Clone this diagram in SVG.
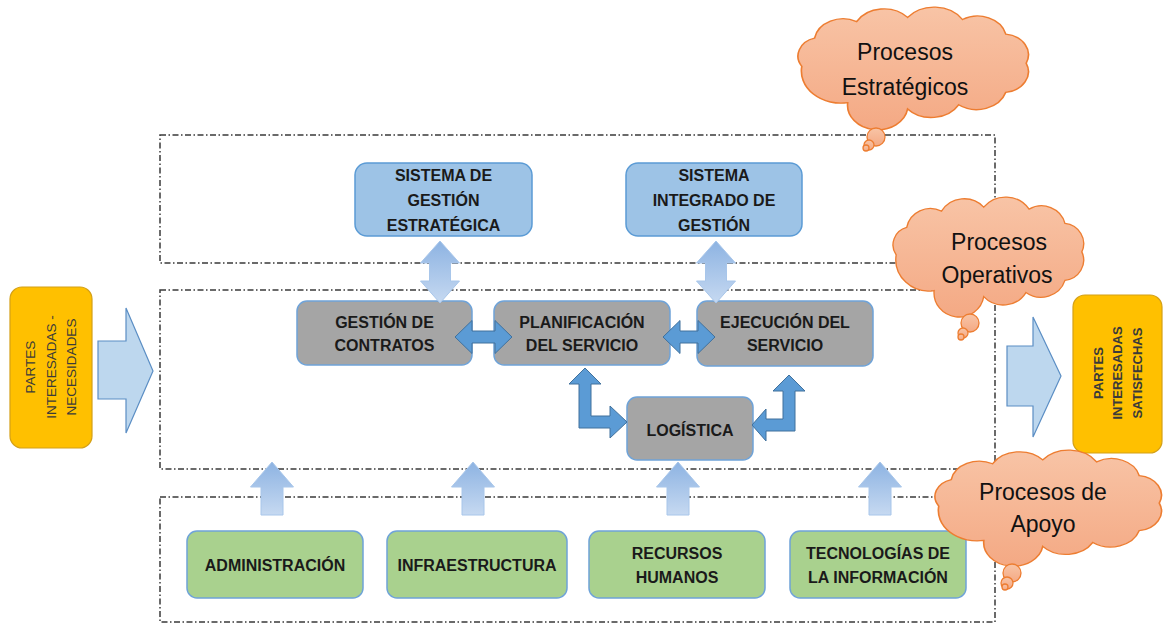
<svg xmlns="http://www.w3.org/2000/svg" width="1165" height="624" viewBox="0 0 1165 624">
<style>
.zone{fill:none;stroke:#3a3a3a;stroke-width:1.5;stroke-dasharray:6 2.5 1.5 2.5}
.blue{fill:#9DC3E6;stroke:#5B9BD5;stroke-width:1.5}
.gray{fill:#A5A5A5;stroke:#6FA3D8;stroke-width:1.5}
.green{fill:#A9D18E;stroke:#6FA3D8;stroke-width:1.5}
.orange{fill:#FFC000;stroke:#D4A017;stroke-width:1.2}
.lbl{font-family:"Liberation Sans",Arial,sans-serif;font-weight:bold;font-size:16px;fill:#1a1a1a;text-anchor:middle}
.side{font-family:"Liberation Sans",Arial,sans-serif;font-size:13.5px;fill:#3a3a3a;text-anchor:middle}
.sideb{font-family:"Liberation Sans",Arial,sans-serif;font-weight:bold;font-size:13px;fill:#3a3a3a;text-anchor:middle}
.ctext{font-family:"Liberation Sans",Arial,sans-serif;font-size:23px;fill:#111;text-anchor:middle}
.up{fill:url(#gUp);stroke:#A8C6EA;stroke-width:1}
.dbl{fill:url(#gUp);stroke:#A8C6EA;stroke-width:1}
.dark{fill:#5B9BD5;stroke:#41719C;stroke-width:1}
.big{fill:#BDD7EE;stroke:#5B8EC4;stroke-width:1.2}
.cloud{fill:url(#gCloud);stroke:#ED7D31;stroke-width:1.3}
</style>
<defs>
<linearGradient id="gUp" x1="0" y1="0" x2="0" y2="1">
<stop offset="0" stop-color="#8DB3E2"/>
<stop offset="1" stop-color="#C6D9F1"/>
</linearGradient>
<linearGradient id="gCloud" x1="0" y1="0" x2="0" y2="1">
<stop offset="0" stop-color="#F8C4A6"/>
<stop offset="1" stop-color="#F4A984"/>
</linearGradient>
<path id="cloudShape" d="M12,55 A17.8,17.8 0 0 1 22,28 A22.7,22.7 0 0 1 55,12 A25,25 0 0 1 95,8 A26.7,26.7 0 0 1 138,10 A22.8,22.8 0 0 1 172,24 A20,20 0 0 1 188,52 A20,20 0 0 1 172,80 A24,24 0 0 1 135,92 A25,25 0 0 1 95,96 A23.7,23.7 0 0 1 48,90 A31,31 0 0 1 12,55 Z"/>
</defs>

<g id="zones">
<rect class="zone" x="160" y="135" width="835" height="128"/>
<rect class="zone" x="160" y="290" width="835" height="179"/>
<rect class="zone" x="160" y="497" width="835" height="125"/>
</g>

<g id="partes-necesidades">
<rect class="orange" x="10" y="287" width="82" height="161" rx="12"/>
<text class="side" transform="translate(35,367) rotate(-90)">PARTES</text>
<text class="side" transform="translate(56,367) rotate(-90)">INTERESADAS -</text>
<text class="side" transform="translate(76,367) rotate(-90)">NECESIDADES</text>
</g>

<g id="partes-satisfechas">
<rect class="orange" x="1073" y="295" width="89" height="158" rx="12"/>
<text class="sideb" transform="translate(1102.5,373) rotate(-90)">PARTES</text>
<text class="sideb" transform="translate(1121.5,373) rotate(-90)">INTERESADAS</text>
<text class="sideb" transform="translate(1141.5,373) rotate(-90)">SATISFECHAS</text>
</g>

<g id="sistema-gestion-estrategica">
<rect class="blue" x="355" y="163" width="177" height="73" rx="12"/>
<text class="lbl" x="443.5" y="181">SISTEMA DE</text>
<text class="lbl" x="443.5" y="206">GESTIÓN</text>
<text class="lbl" x="443.5" y="231">ESTRATÉGICA</text>
</g>

<g id="sistema-integrado">
<rect class="blue" x="626" y="163" width="176" height="73" rx="12"/>
<text class="lbl" x="714" y="181">SISTEMA</text>
<text class="lbl" x="714" y="206">INTEGRADO DE</text>
<text class="lbl" x="714" y="231">GESTIÓN</text>
</g>

<g id="gestion-contratos">
<rect class="gray" x="297" y="301" width="175" height="64" rx="10"/>
<text class="lbl" x="384.5" y="328">GESTIÓN DE</text>
<text class="lbl" x="384.5" y="351">CONTRATOS</text>
</g>

<g id="planificacion">
<rect class="gray" x="494" y="301" width="176" height="64" rx="10"/>
<text class="lbl" x="582" y="328">PLANIFICACIÓN</text>
<text class="lbl" x="582" y="351">DEL SERVICIO</text>
</g>

<g id="ejecucion">
<rect class="gray" x="697" y="301" width="176" height="65" rx="10"/>
<text class="lbl" x="785" y="328">EJECUCIÓN DEL</text>
<text class="lbl" x="785" y="351">SERVICIO</text>
</g>

<g id="logistica">
<rect class="gray" x="627" y="397" width="126" height="63" rx="10"/>
<text class="lbl" x="690" y="436">LOGÍSTICA</text>
</g>

<g id="administracion">
<rect class="green" x="187" y="531" width="176" height="67" rx="10"/>
<text class="lbl" x="275" y="571">ADMINISTRACIÓN</text>
</g>

<g id="infraestructura">
<rect class="green" x="387" y="531" width="180" height="67" rx="10"/>
<text class="lbl" x="477" y="571">INFRAESTRUCTURA</text>
</g>

<g id="recursos-humanos">
<rect class="green" x="589" y="531" width="176" height="67" rx="10"/>
<text class="lbl" x="677" y="559">RECURSOS</text>
<text class="lbl" x="677" y="583">HUMANOS</text>
</g>

<g id="tecnologias">
<rect class="green" x="790" y="531" width="176" height="67" rx="10"/>
<text class="lbl" x="878" y="559">TECNOLOGÍAS DE</text>
<text class="lbl" x="878" y="583">LA INFORMACIÓN</text>
</g>

<g id="connectors">
<polygon class="big" points="98,341 126,341 126,308 153,371 126,433 126,399 98,399"/>
<polygon class="big" points="1007,346 1033,346 1033,317 1061,376 1033,437 1033,406 1007,406"/>
<polygon class="dbl" points="440,241 459.5,263 450.5,263 450.5,281 459.5,281 440,303 420.5,281 429.5,281 429.5,263 420.5,263"/>
<polygon class="dbl" points="716,241 735.5,263 726.5,263 726.5,281 735.5,281 716,303 696.5,281 705.5,281 705.5,263 696.5,263"/>
<polygon class="dark" points="455,337 472,320.5 472,331 495,331 495,320.5 512,337 495,353.5 495,343 472,343 472,353.5"/>
<polygon class="dark" points="663,337 680,320.5 680,331 698,331 698,320.5 715,337 698,353.5 698,343 680,343 680,353.5"/>
<polygon class="dark" points="585,368 601,384 591,384 591,416 610,416 610,406 627,422 610,438 610,428 579,428 579,384 569,384"/>
<polygon class="dark" points="789,375 805,391 795,391 795,431 766,431 766,441 752,425 766,409 766,419 783,419 783,391 773,391"/>
<polygon class="up" points="272,462 293.5,487 283,487 283,515 261,515 261,487 250.5,487"/>
<polygon class="up" points="473,462 494.5,487 484,487 484,515 462,515 462,487 451.5,487"/>
<polygon class="up" points="678,462 699.5,487 689,487 689,515 667,515 667,487 656.5,487"/>
<polygon class="up" points="880,462 901.5,487 891,487 891,515 869,515 869,487 858.5,487"/>
</g>

<g id="cloud-estrategicos">
<use href="#cloudShape" class="cloud" vector-effect="non-scaling-stroke" transform="translate(786.5,9.1) scale(1.275,1.04)"/>
<circle class="cloud" cx="876" cy="137" r="9"/>
<circle class="cloud" cx="869" cy="145" r="5"/>
<circle class="cloud" cx="866" cy="148" r="3"/>
<text class="ctext" x="905" y="60">Procesos</text>
<text class="ctext" x="905" y="95">Estratégicos</text>
</g>

<g id="cloud-operativos">
<use href="#cloudShape" class="cloud" vector-effect="non-scaling-stroke" transform="translate(883.5,199) scale(1.055,1.017)"/>
<circle class="cloud" cx="970" cy="323" r="9"/>
<circle class="cloud" cx="963" cy="333" r="5"/>
<circle class="cloud" cx="961" cy="337" r="3"/>
<text class="ctext" x="999" y="250">Procesos</text>
<text class="ctext" x="997" y="283">Operativos</text>
</g>

<g id="cloud-apoyo">
<use href="#cloudShape" class="cloud" vector-effect="non-scaling-stroke" transform="translate(923.7,452) scale(1.253,0.983)"/>
<circle class="cloud" cx="1012" cy="573" r="9"/>
<circle class="cloud" cx="1007" cy="583" r="6"/>
<circle class="cloud" cx="1005" cy="587" r="3"/>
<text class="ctext" x="1043" y="500">Procesos de</text>
<text class="ctext" x="1043" y="532">Apoyo</text>
</g>
</svg>
